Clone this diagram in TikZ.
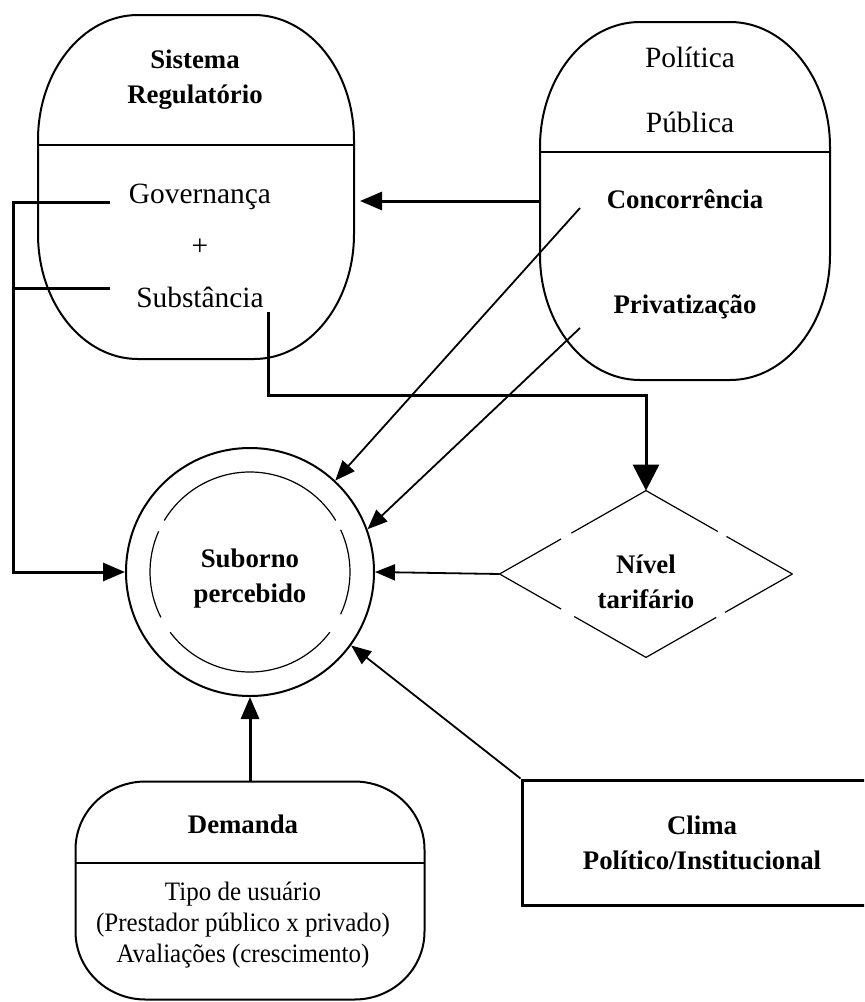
\documentclass[tikz,border=0pt]{standalone}
\usepackage{fontspec}
\setmainfont{Liberation Serif}
\newfontfamily\narrowserif[FakeStretch=0.94]{Liberation Serif}
\usetikzlibrary{shapes.geometric,arrows.meta,calc}

% outline of a pill: node name, corner x radius, corner y radius
\newcommand{\pilldraw}[3]{%
  \draw[line width=1pt] ([xshift=-#2]#1.north east) -- ([xshift=#2]#1.north west)
    arc[start angle=90, end angle=180, x radius=#2, y radius=#3]
    -- ([yshift=#3]#1.south west)
    arc[start angle=180, end angle=270, x radius=#2, y radius=#3]
    -- ([xshift=-#2]#1.south east)
    arc[start angle=270, end angle=360, x radius=#2, y radius=#3]
    -- ([yshift=-#3]#1.north east)
    arc[start angle=0, end angle=90, x radius=#2, y radius=#3] -- cycle;}

\begin{document}
\begin{tikzpicture}[x=0.5pt, y=-0.5pt,
    reg/.style={font=\fontsize{14.7}{17}\selectfont},
    bld/.style={font=\fontsize{13.4}{17.5}\selectfont\bfseries, align=center},
    pill/.style={inner sep=0pt, outer sep=0pt},
    heavy/.style={line width=1.5pt, -{Triangle[length=11pt,width=9pt]}},
    light/.style={line width=0.9pt, -{Triangle[length=10pt,width=8pt]}},
    thinline/.style={line width=0.6pt}]
            \useasboundingbox (0,0) rectangle (864,1002);
            \clip (0,0) rectangle (864,1002);
            % Define shapes
            \node[pill, minimum width=158pt, minimum height=172pt] (sis) at (196,187) {};
            \node[pill, minimum width=145pt, minimum height=179pt] (pol) at (685,201) {};
            \node[pill, minimum width=174.5pt, minimum height=109pt] (dem) at (250,890.5) {};
            \pilldraw{sis}{50pt}{62.5pt}
            \pilldraw{pol}{50pt}{62.5pt}
            \pilldraw{dem}{35pt}{34pt}
            \node[draw, line width=1.5pt, minimum width=180pt, minimum height=62.5pt, bld] (clima) at (702,842.5) {Clima\\Político/Institucional};
            \node[circle, draw, line width=1pt, minimum size=124pt, inner sep=0pt] (sub) at (250,572) {};
            \node[diamond, minimum width=146pt, minimum height=83pt, inner sep=0pt] (niv) at (646,574) {};
            % Dividers
            \draw[line width=1pt] (38,145) -- (354,145);
            \draw[line width=1pt] (540,152) -- (830,152);
            \draw[line width=1pt] (75,863) -- (425,863);
            % Texts
            \node[bld] (sistit) at (195,80) {Sistema\\Regulatório};
            \node[reg] (gov) at (200,197) {Governança};
            \node[reg] (plus) at (200,247) {+};
            \node[reg] (subst) at (200,297) {Substância};
            \node[reg] (politica) at (690,57) {Política};
            \node[reg] (publica) at (690,122) {Pública};
            \node[bld] (conc) at (685,199) {Concorrência};
            \node[bld] (priv) at (685,307) {Privatização};
            \node[bld] (subtxt) at (250,579) {Suborno\\percebido};
            \node[bld] (nivtxt) at (646,582) {Nível\\tarifário};
            \node[bld] (demtit) at (243,824) {Demanda};
            \node[font=\narrowserif\fontsize{13.3}{15.5}\selectfont, align=center] (demtxt) at (243,925) {Tipo de usuário\\(Prestador público x privado)\\Avaliações (crescimento)};
            % Inner dashed circle
            \foreach \s/\e in {31/149, 156/207, 217/323, -25/25}
                \draw[thinline] (sub.center) ++(\s:50pt) arc[start angle=\s, end angle=\e, radius=50pt];
            % Dashed diamond sides
            \foreach \a/\b/\p/\q in {north/west/0.51/0.58, west/south/0.42/0.51, south/east/0.48/0.54, east/north/0.45/0.51}{
                \draw[thinline] (niv.\a) -- ($(niv.\a)!\p!(niv.\b)$);
                \draw[thinline] ($(niv.\a)!\q!(niv.\b)$) -- (niv.\b);
            }
            % Connectors
            \coordinate (govend) at (110,202);
            \coordinate (subend) at (110,288);
            \coordinate (fbtop) at (13,202);
            \coordinate (subdrop) at (268,312);
            \coordinate (elbow) at (268,395);
            \coordinate (concstart) at (580,208);
            \coordinate (privstart) at (580,328);
            \draw[heavy] (govend) -- (fbtop) |- (sub.west);
            \draw[line width=1.5pt] (subend) -- (subend -| fbtop);
            \draw[heavy, shorten >=3pt] (pol.west) -- (sis.east |- pol.west);
            \draw[line width=1.5pt, -{Triangle[length=13pt,width=13pt]}] (subdrop) -- (elbow) -| (niv.north);
            \draw[light] (concstart) -- (sub.47);
            \draw[light] (privstart) -- (sub.20);
            \draw[light] (niv.west) -- (sub.east);
            \draw[light] (clima.north west) -- (sub.-36);
            \draw[heavy] (dem.north) -- (sub.south);
          \end{tikzpicture}
\end{document}
